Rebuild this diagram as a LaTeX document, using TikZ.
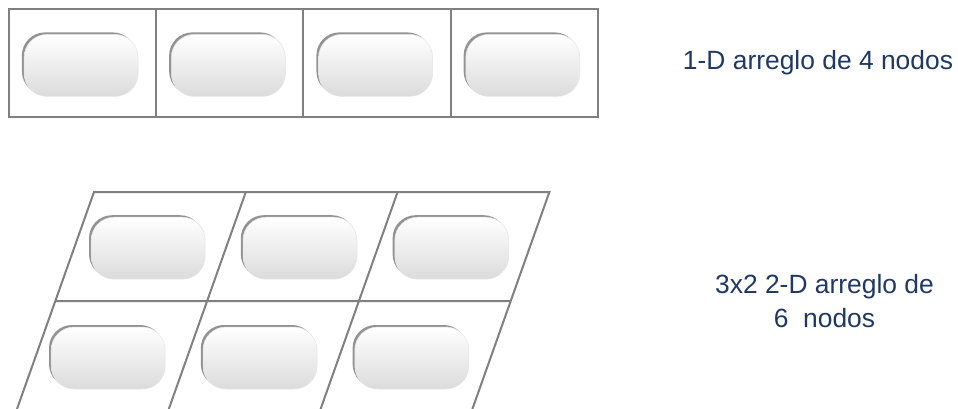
\documentclass[tikz,border=0pt]{standalone}
\usepackage{fontspec}
\setmainfont{Liberation Sans}
\usetikzlibrary{positioning,shadows}
\definecolor{gridgray}{RGB}{128,128,128}
\definecolor{txtblue}{RGB}{31,56,100}
\begin{document}
\begin{tikzpicture}[x=1pt,y=-1pt,node distance=0pt,
 cell/.style={draw=gridgray,line width=2pt,outer sep=0pt,minimum width=147.25pt,minimum height=108.2pt},
 pill/.style={draw=gray!20,line width=0.5pt,rounded corners=23pt,minimum width=114pt,minimum height=62pt,top color=white,bottom color=gray!28,
   general shadow={fill=gray!85,shadow xshift=-2.2pt,shadow yshift=2pt}},
 lbl/.style={text=txtblue,align=center,inner sep=0pt,font=\fontsize{26.4}{34.7}\selectfont},
 gridline/.style={draw=gridgray,line width=2pt}]
\useasboundingbox (0,0) rectangle (958,409);
\node[cell] (c1) at (82.6,63.4) {};
\node[cell,right=of c1] (c2) {};
\node[cell,right=of c2] (c3) {};
\node[cell,right=of c3] (c4) {};
\foreach \i in {1,...,4}
  \node[pill] (p\i) at ([shift={(-1.5,2)}]c\i.center) {};
\node[lbl,anchor=base] (l1) at (818,70) {1-D arreglo de 4 nodos};
\foreach \i in {0,...,3} {
  \coordinate (t\i) at (94+151.8*\i,192);
  \coordinate (m\i) at (55.3+151.8*\i,301);
  \coordinate (b\i) at (17+151.8*\i,409);
}
\draw[gridline] (b0) -- (t0) -- (t3) -- (b3);
\draw[gridline] (t1) -- (b1) (t2) -- (b2) (m0) -- (m3);
\foreach \i in {0,1,2} {
  \node[pill] (q\i) at (148.2+151.8*\i,248.2) {};
  \node[pill] (r\i) at (108.2+151.8*\i,358) {};
}
\node[lbl,anchor=north] (l2) at (824.5,273.7) {3x2 2-D arreglo de\\6\ \ nodos};
\end{tikzpicture}
\end{document}
